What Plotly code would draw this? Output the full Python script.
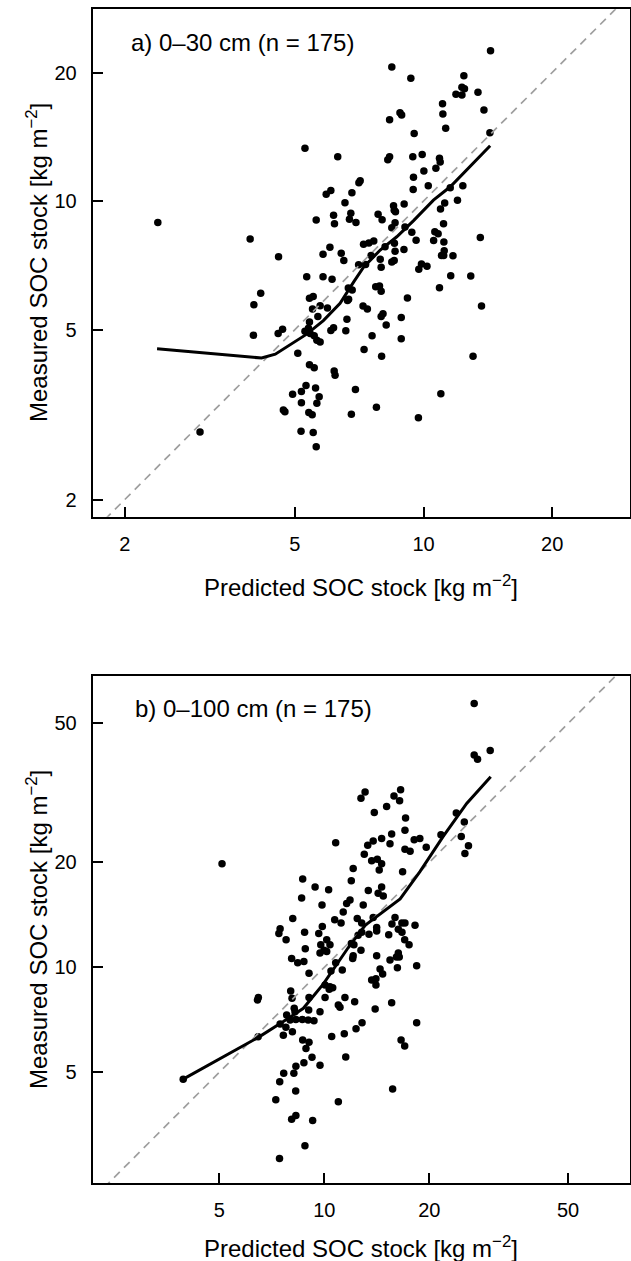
import plotly.graph_objects as go

# ---------------- Panel a) 0-30 cm ----------------
pred_a = [8.43, 9.34, 11.08, 11.1, 11.27, 8.33, 8.81, 8.89, 9.51, 5.28, 6.30, 8.25, 8.33, 9.44, 9.93,
          10.9, 10.94, 10.69, 10.02, 9.475, 10.26, 9.46, 7.11, 7.06, 6.07, 5.92, 6.80, 6.55, 9.01, 8.51,
          8.54, 8.60, 11.55, 11.21, 10.96, 6.16, 6.76, 6.71, 6.95, 5.61, 6.19, 7.83, 8.00, 8.58, 8.43,
          9.05, 9.39, 9.61, 11.14, 10.63, 10.82, 10.56, 11.16, 3.93, 4.58, 6.04, 5.82, 6.42, 6.51, 7.24,
          7.45, 7.65, 8.55, 8.13, 8.58, 9.00, 7.54, 7.92, 8.54, 8.43, 7.96, 7.05, 7.32, 11.18, 11.02,
          11.15, 9.89, 9.75, 10.19, 11.58, 5.33, 5.82, 6.11, 4.16, 4.01, 6.67, 6.81, 7.73, 7.89, 7.96,
          10.9, 9.17, 5.41, 5.52, 5.50, 5.73, 5.96, 6.64, 6.68, 7.22, 7.39, 5.66, 5.41, 6.62, 7.96,
          8.04, 8.18, 8.87, 4.00, 4.57, 4.68, 5.28, 5.38, 5.43, 5.55, 5.63, 5.73, 6.07, 6.16, 6.58,
          7.58, 8.87, 5.08, 7.26, 7.98, 2.39, 3.00, 5.41, 5.55, 6.18, 6.21, 5.31, 5.59, 4.94, 5.18,
          5.70, 5.18, 5.63, 4.70, 4.74, 5.39, 5.49, 6.78, 6.93, 5.17, 5.52, 5.61, 12.9, 13.67, 13.06,
          10.98, 7.76, 9.73, 14.35, 12.43, 12.30, 12.47, 11.91, 12.30, 13.41, 13.85, 14.30, 12.36, 12.01,
          13.58, 11.72]
meas_a = [20.6, 19.4, 16.9, 16.0, 14.8, 15.5, 16.1, 15.9, 14.4, 13.3, 12.7, 12.5, 12.7, 12.7, 12.85,
          12.6, 12.35, 11.93, 11.76, 11.37, 10.86, 10.65, 11.16, 11.04, 10.59, 10.37, 10.46, 9.91, 9.84, 9.75,
          9.52, 9.44, 10.75, 9.89, 9.58, 9.27, 9.37, 9.07, 8.91, 9.03, 8.85, 9.31, 9.04, 8.90, 8.66,
          8.70, 8.45, 8.10, 8.85, 8.47, 8.38, 8.08, 8.02, 8.15, 7.41, 7.80, 7.51, 7.55, 7.26, 7.92,
          7.98, 8.06, 7.97, 7.82, 7.63, 7.70, 7.46, 7.31, 7.26, 7.20, 7.00, 7.09, 7.10, 7.65, 7.46,
          7.46, 7.12, 6.92, 7.04, 6.69, 6.65, 6.65, 6.56, 6.08, 5.72, 6.26, 6.19, 6.30, 6.33, 6.15,
          6.27, 5.93, 5.92, 5.98, 5.59, 5.69, 5.62, 5.85, 5.89, 5.68, 5.59, 5.37, 5.21, 5.29, 5.37,
          5.45, 5.13, 5.34, 4.85, 4.90, 5.01, 4.96, 5.04, 4.90, 4.84, 4.72, 4.68, 4.98, 5.05, 4.97,
          4.84, 4.76, 4.40, 4.49, 4.33, 8.91, 2.88, 4.14, 4.07, 4.00, 3.91, 3.70, 3.65, 3.53, 3.58,
          3.48, 3.37, 3.36, 3.24, 3.21, 3.20, 3.16, 3.17, 3.62, 2.89, 2.87, 2.66, 6.68, 5.68, 4.33,
          3.54, 3.29, 3.11, 22.5, 19.65, 18.46, 18.32, 17.78, 17.71, 17.99, 16.33, 14.45, 10.86, 10.05,
          8.22, 7.45]
smooth_a_x = [2.38, 4.18, 4.50, 4.88, 5.33, 5.83, 6.38, 6.86, 7.24, 7.92, 8.66, 9.48, 10.55, 11.55, 12.86, 14.32]
smooth_a_y = [4.51, 4.29, 4.38, 4.62, 4.88, 5.25, 5.76, 6.46, 7.00, 7.68, 8.25, 9.00, 10.05, 10.80, 12.08, 13.48]

# ---------------- Panel b) 0-100 cm ----------------
pred_b = [13.09, 12.74, 15.84, 16.44, 16.55, 15.09, 13.91, 17.1, 17.03, 15.6, 15.43, 14.6, 13.81, 13.32,
          10.78, 13.02, 18.1, 18.79, 17.03, 17.62, 13.67, 14.19, 14.6, 14.37, 12.1, 16.77, 5.09, 8.67,
          11.95, 9.41, 10.29, 13.37, 14.6, 14.27, 14.76, 8.61, 12.93, 11.59, 11.85, 9.85, 11.33, 8.12,
          10.71, 11.17, 12.43, 12.8, 13.81, 15.95, 7.47, 7.41, 7.77, 8.78, 9.87, 9.64, 15.63, 16.69,
          17.03, 16.3, 16.7, 18.2, 14.13, 14.13, 13.43, 15.3, 12.5, 12.8, 10.16, 10.38, 9.77, 9.98,
          9.72, 10.16, 8.82, 11.95, 12.16, 17.0, 17.5, 12.74, 8.06, 8.39, 8.74, 12.1, 12.06, 14.13,
          15.43, 16.3, 16.4, 16.1, 10.78, 9.04, 10.45, 11.26, 14.45, 14.7, 13.67, 14.06, 14.06, 16.2,
          18.4, 10.05, 10.38, 10.57, 10.33, 8.01, 6.47, 6.43, 8.08, 9.04, 10.05, 11.46, 12.22, 15.6,
          10.97, 11.09, 8.20, 8.24, 7.80, 7.98, 8.29, 9.02, 9.72, 8.65, 8.99, 9.34, 7.47, 7.76, 7.63,
          8.10, 13.99, 12.83, 12.33, 11.41, 10.50, 6.46, 8.67, 9.04, 8.86, 18.4, 16.6, 17.0, 9.22,
          11.52, 8.74, 8.29, 9.72, 7.65, 8.18, 7.45, 8.28, 7.26, 10.97, 15.7, 8.29, 8.06, 9.26,
          26.9, 26.9, 27.5, 29.9, 19.6, 21.6, 23.9, 25.2, 24.7, 25.9, 25.3, 3.94, 7.44, 8.80]
meas_b = [31.8, 30.5, 31.0, 30.0, 32.3, 28.9, 27.8, 26.8, 24.7, 24.1, 22.6, 23.4, 23.0, 22.4,
          22.75, 21.1, 23.2, 23.4, 21.8, 21.5, 20.2, 20.4, 19.8, 19.0, 19.2, 18.8, 19.8, 17.9,
          17.7, 17.0, 16.7, 16.6, 17.0, 16.3, 16.0, 15.8, 15.1, 15.25, 15.6, 15.1, 14.4, 13.8,
          13.7, 13.4, 13.8, 13.4, 13.9, 13.9, 12.9, 12.5, 12.0, 12.6, 13.1, 12.5, 13.3, 13.4,
          13.4, 12.85, 12.6, 13.2, 13.0, 12.7, 12.45, 12.4, 12.35, 12.6, 12.0, 11.6, 11.6, 11.2,
          11.0, 11.1, 11.3, 11.7, 11.6, 12.0, 11.6, 11.2, 10.6, 10.3, 10.4, 10.8, 10.6, 10.8,
          10.5, 11.0, 10.7, 10.7, 10.3, 9.61, 9.76, 9.82, 9.89, 9.57, 9.20, 9.28, 8.90, 9.97,
          10.1, 8.90, 8.80, 8.74, 8.65, 8.55, 8.20, 8.06, 8.15, 8.20, 8.20, 8.20, 7.97, 7.92,
          7.80, 7.68, 7.63, 7.46, 7.30, 7.06, 7.09, 7.55, 7.46, 7.09, 7.06, 7.03, 6.88, 6.73, 6.39,
          6.54, 7.59, 6.94, 6.67, 6.45, 6.33, 6.32, 6.19, 6.10, 5.85, 6.94, 6.19, 5.95, 5.52,
          5.53, 5.33, 5.21, 5.24, 4.97, 4.97, 4.70, 4.42, 4.17, 4.12, 4.48, 3.76, 3.67, 3.64,
          57.0, 40.6, 39.5, 41.8, 22.1, 24.0, 27.7, 26.1, 23.7, 22.3, 21.2, 4.78, 2.83, 3.08]
smooth_b_x = [3.94, 5.14, 6.47, 7.63, 8.71, 9.94, 11.69, 13.09, 14.76, 16.5, 18.8, 21.9, 25.6, 30.0]
smooth_b_y = [4.78, 5.54, 6.30, 6.99, 7.63, 8.96, 11.36, 13.2, 14.45, 15.7, 18.8, 23.7, 29.5, 35.2]

ticks_a = [2, 5, 10, 20]
ticks_b = [5, 10, 20, 50]
one_to_one = [1, 100]

W, H = 631, 1261
FONT = "Liberation Sans, Arial, Helvetica, sans-serif"


def px(x):
    return x / W


def py(y):
    return 1 - y / H


fig = go.Figure()

panels = [
    ("x", "y", pred_a, meas_a, smooth_a_x, smooth_a_y),
    ("x2", "y2", pred_b, meas_b, smooth_b_x, smooth_b_y),
]
for xa, ya, xs, ys, sx, sy in panels:
    fig.add_trace(go.Scatter(x=xs, y=ys, mode="markers", xaxis=xa, yaxis=ya,
                             marker=dict(color="black", size=7.5, line=dict(width=0)),
                             showlegend=False, cliponaxis=True))
    fig.add_trace(go.Scatter(x=one_to_one, y=one_to_one, mode="lines", xaxis=xa, yaxis=ya,
                             line=dict(color="#9e9e9e", width=1.7, dash="8px,6px"),
                             showlegend=False))
    fig.add_trace(go.Scatter(x=sx, y=sy, mode="lines", xaxis=xa, yaxis=ya,
                             line=dict(color="black", width=3),
                             showlegend=False))

axis_common = dict(type="log", showgrid=False, zeroline=False, showline=True,
                   linecolor="black", linewidth=2, mirror=True,
                   ticks="inside", ticklen=10, tickwidth=2, tickcolor="black",
                   tickfont=dict(family=FONT, size=20, color="black"))

xdom = [px(92.7), px(629.5)]
fig.update_layout(
    width=W, height=H,
    margin=dict(l=0, r=0, t=0, b=0),
    paper_bgcolor="white", plot_bgcolor="white",
    font=dict(family=FONT, color="black"),
    xaxis=dict(domain=xdom, range=[0.226, 1.482], anchor="y",
               tickvals=ticks_a, ticktext=[str(t) for t in ticks_a], ticklabelstandoff=8, **axis_common),
    yaxis=dict(domain=[py(516.7), py(9.3)], range=[0.261, 1.449], anchor="x",
               tickvals=ticks_a, ticktext=[str(t) for t in ticks_a], ticklabelstandoff=10, **axis_common),
    xaxis2=dict(domain=xdom, range=[0.336, 1.875], anchor="y2",
                tickvals=ticks_b, ticktext=[str(t) for t in ticks_b], ticklabelstandoff=8, **axis_common),
    yaxis2=dict(domain=[py(1183.3), py(676)], range=[0.381, 1.835], anchor="x2",
                tickvals=ticks_b, ticktext=[str(t) for t in ticks_b], ticklabelstandoff=10, **axis_common),
)

xlab = "Predicted SOC stock [kg m<sup>−2</sup>]"
ylab = "Measured SOC stock [kg m<sup>−2</sup>]"
ann = [
    dict(text="a) 0–30 cm (n = 175)", x=px(129.3), y=py(43), xanchor="left", yanchor="middle"),
    dict(text="b) 0–100 cm (n = 175)", x=px(133.3), y=py(708), xanchor="left", yanchor="middle"),
    dict(text=xlab, x=px(361), y=py(586), xanchor="center", yanchor="middle"),
    dict(text=xlab, x=px(361), y=py(1247), xanchor="center", yanchor="middle"),
    dict(text=ylab, x=px(37), y=py(263), xanchor="center", yanchor="middle", textangle=-90),
    dict(text=ylab, x=px(37), y=py(930), xanchor="center", yanchor="middle", textangle=-90),
]
for a in ann:
    fig.add_annotation(xref="paper", yref="paper", showarrow=False,
                       font=dict(family=FONT, size=24, color="black"), **a)

fig.write_html("out.html",
               config={"displayModeBar": False, "staticPlot": True},
               post_script="document.body.style.margin='0px';document.body.style.overflow='hidden';")
